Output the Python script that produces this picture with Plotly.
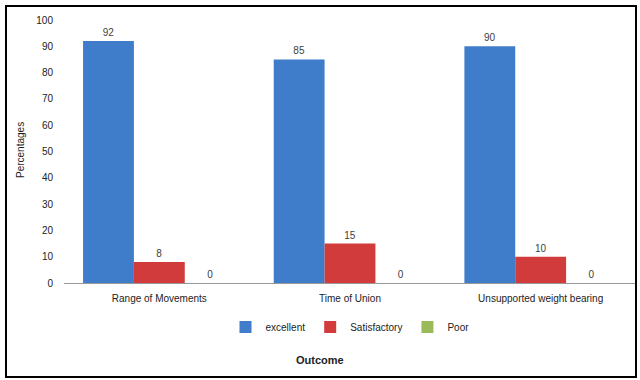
import plotly.graph_objects as go

categories = ["Range of Movements", "Time of Union", "Unsupported weight bearing"]
excellent = [92, 85, 90]
satisfactory = [8, 15, 10]
poor = [0, 0, 0]
series_names = ["excellent", "Satisfactory", "Poor"]
colors = ["#3F7CC9", "#D23B3B", "#9BBB59"]

W, H = 640, 380
L, R, T, B = 64, 4, 20, 97
pw, ph = W - L - R, H - T - B

fig = go.Figure()
for name, vals, col in zip(series_names, [excellent, satisfactory, poor], colors):
    fig.add_trace(go.Bar(
        x=categories, y=vals, name=name,
        marker=dict(color=col, line=dict(width=0)),
        text=[str(v) for v in vals], textposition="outside",
        textfont=dict(size=10, color="#404040"), cliponaxis=False,
    ))

def px_x(x):
    return (x - L) / pw

def px_y(y):
    return (H - B - y) / ph

fig.update_layout(
    width=W, height=H,
    margin=dict(l=L, r=R, t=T, b=B),
    paper_bgcolor="white", plot_bgcolor="white",
    barmode="group", bargap=0.2, bargroupgap=0,
    font=dict(family="Liberation Sans, Arial, sans-serif", size=10, color="#222"),
    showlegend=True,
    legend=dict(orientation="h", x=0.5, xanchor="center", y=px_y(327), yanchor="middle",
                font=dict(size=10), itemwidth=30, tracegroupgap=0),
    xaxis=dict(showgrid=False, showline=True, linecolor="#999", linewidth=1,
               ticks="", tickfont=dict(size=10), ticklabelstandoff=6),
    yaxis=dict(range=[0, 100], dtick=10, showgrid=False, showline=False, zeroline=False,
               ticks="", tickfont=dict(size=10), ticklabelstandoff=10),
    shapes=[dict(type="rect", xref="paper", yref="paper",
                 x0=px_x(6), x1=px_x(636), y0=px_y(377), y1=px_y(6),
                 line=dict(color="black", width=2))],
    annotations=[
        dict(text="Percentages", xref="paper", yref="paper", x=px_x(20), y=px_y(150),
             textangle=-90, showarrow=False, font=dict(size=10), xanchor="center", yanchor="middle"),
        dict(text="<b>Outcome</b>", xref="paper", yref="paper", x=px_x(320), y=px_y(360),
             showarrow=False, font=dict(size=11), xanchor="center", yanchor="middle"),
    ],
)

fig.write_html("out.html", config={"displayModeBar": False},
               post_script="document.body.style.margin='0';document.body.style.padding='0';")
